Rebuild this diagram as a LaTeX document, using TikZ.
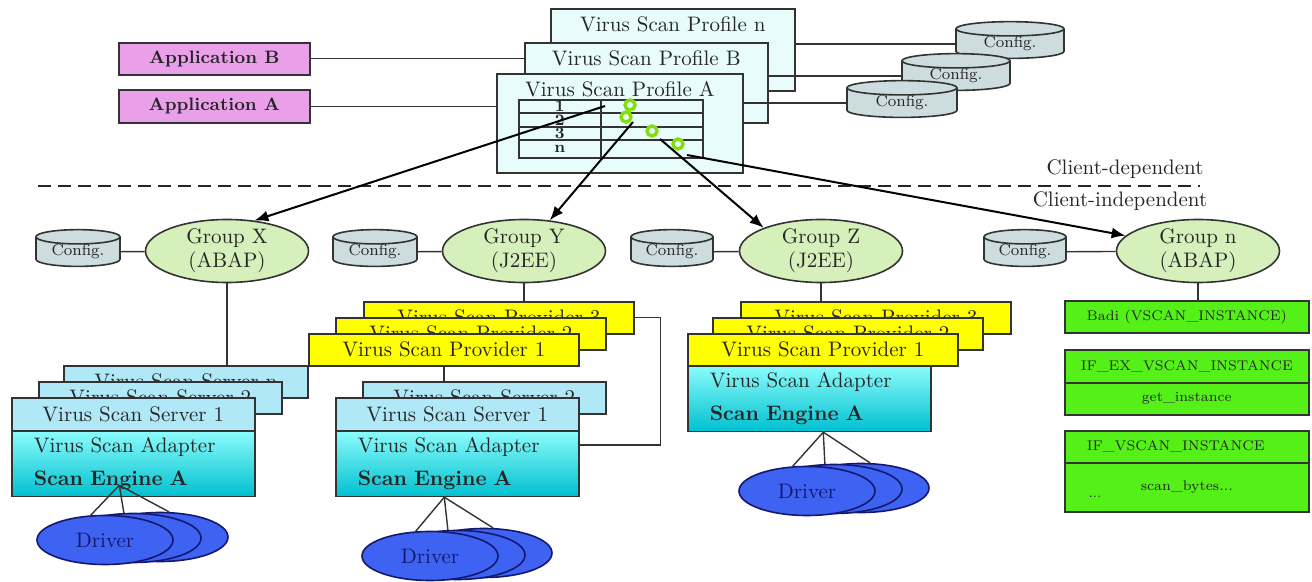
\documentclass[tikz,border=0pt]{standalone}
\usepackage{xcolor}
\definecolor{appmagenta}{RGB}{233, 160, 233}
\definecolor{profcyan}{RGB}{232, 252, 252}
\definecolor{cfggray}{RGB}{205, 220, 222}
\definecolor{grpgreen}{RGB}{214, 240, 188}
\definecolor{provyellow}{RGB}{255, 255, 0}
\definecolor{srvblue}{RGB}{176, 232, 248}
\definecolor{adtop}{RGB}{140, 252, 252}
\definecolor{adbottom}{RGB}{0, 192, 208}
\definecolor{drvblue}{RGB}{62, 98, 242}
\definecolor{drvtext}{RGB}{20, 24, 110}
\definecolor{badigreen}{RGB}{84, 240, 24}
\definecolor{ringgreen}{RGB}{130, 222, 10}
\usepackage{tikz}
\usetikzlibrary{shapes.geometric, arrows.meta, positioning, calc}

\begin{document}
\begin{tikzpicture}[x=0.5pt, y=-0.5pt,
    every node/.style={text=black!85},
    appbox/.style={rectangle, draw=black!80, line width=0.8pt, fill=appmagenta, minimum width=95.5pt, minimum height=16pt, anchor=north west, font=\fontsize{9}{11}\selectfont\bfseries},
    profbox/.style={rectangle, draw=black!80, line width=0.8pt, fill=profcyan, anchor=north west},
    proftxt/.style={inner sep=1pt, font=\fontsize{10.5}{12}\selectfont},
    tcell/.style={rectangle, draw=black!80, line width=0.8pt, anchor=north west, inner sep=0pt, font=\fontsize{8}{9}\selectfont\bfseries},
    ring/.style={circle, draw=ringgreen, line width=1.7pt, minimum size=5pt, inner sep=0pt},
    cfg/.style={cylinder, shape border rotate=90, aspect=0.27, draw=black!80, line width=0.8pt, fill=cfggray, inner sep=0pt, font=\fontsize{8}{9}\selectfont},
    grp/.style={ellipse, draw=black!80, line width=0.8pt, fill=grpgreen, minimum width=81.5pt, minimum height=31.5pt, align=center, inner sep=0pt, font=\fontsize{10.5}{12}\selectfont},
    prov/.style={rectangle, draw=black!80, line width=0.8pt, fill=provyellow, minimum width=135pt, minimum height=16pt, anchor=north west, font=\fontsize{10.5}{12}\selectfont},
    srv/.style={rectangle, draw=black!80, line width=0.8pt, fill=srvblue, minimum width=121.5pt, minimum height=16.5pt, anchor=north west, font=\fontsize{10.5}{12}\selectfont},
    adp/.style={rectangle, draw=black!80, line width=0.8pt, top color=adtop, bottom color=adbottom, minimum height=32.5pt, text width=99.5pt, inner xsep=11pt, align=left, anchor=north west, font=\fontsize{10.5}{12}\selectfont},
    drv/.style={ellipse, draw=drvtext, line width=0.8pt, fill=drvblue, minimum width=68pt, minimum height=24.5pt, text=drvtext, font=\fontsize{10.5}{12}\selectfont},
    gbox/.style={rectangle, draw=black!80, line width=0.8pt, fill=badigreen, minimum width=122pt, minimum height=16pt, anchor=north west, font=\fontsize{7}{8}\selectfont},
    clbl/.style={inner sep=1pt, font=\fontsize{10.5}{12}\selectfont},
    link/.style={draw=black!80, line width=0.7pt},
    divider/.style={black!85, line width=1pt, dash pattern=on 6.5pt off 3.5pt},
    arr/.style={-{Latex[length=7pt, width=5.5pt]}, line width=1pt, black}
  ]
    \useasboundingbox (0,0) rectangle (1312,582);

    \node[profbox, minimum width=122pt, minimum height=41pt] (pn) at (550,8) {};
    \node[proftxt, below=3pt of pn.north] (pnt) {Virus Scan Profile n};
    \node[profbox, minimum width=121.5pt, minimum height=40pt] (pb) at (524,42) {};
    \node[proftxt, below=3pt of pb.north] (pbt) {Virus Scan Profile B};
    \node[profbox, minimum width=123pt, minimum height=49.5pt] (pa) at (496,73) {};
    \node[proftxt, below=3pt of pa.north] (pat) {Virus Scan Profile A};

    \foreach \r/\k/\y/\h in {1/1/99/13, 2/2/112/14, 3/3/126/13, 4/n/139/18} {
      \node[tcell, minimum width=41pt, minimum height=\h*0.5pt] (k\r) at (518,\y) {\k};
      \node[tcell, minimum width=51pt, minimum height=\h*0.5pt] (v\r) at (600,\y) {};
    }
    \foreach \r/\x/\y in {1/630/105, 2/626/117, 3/652/131, 4/678/144}
      \node[ring] (o\r) at (\x,\y) {};

    \node[cfg, minimum width=54pt] (cfgn) at (1010,44) {Config.};
    \node[cfg, minimum width=54pt] (cfgb) at (956,76) {Config.};
    \node[cfg, minimum width=55pt] (cfga) at (902,103) {Config.};

    \node[appbox] (appb) at (118,42) {Application B};
    \node[appbox, minimum height=16.5pt] (appa) at (118,89) {Application A};

    \draw[link] (appb.east) -- (appb.east -| pb.west);
    \draw[link] (appa.east) -- (appa.east -| pa.west);
    \draw[link] (cfgn.west) -- (cfgn.west -| pn.east);
    \draw[link] (cfgb.west) -- (cfgb.west -| pb.east);
    \draw[link] (cfga.west) -- (cfga.west -| pa.east);

    \draw[divider] (38,186) -- (1200,186);
    \node[clbl] (cdep) at (1125,169) {Client-dependent};
    \node[clbl] (cind) at (1120,201) {Client-independent};

    \node[grp] (gx) at (227,251) {Group X\\(ABAP)};
    \node[grp] (gy) at (524,251) {Group Y\\(J2EE)};
    \node[grp] (gz) at (821,251) {Group Z\\(J2EE)};
    \node[grp] (gn) at (1198,251) {Group n\\(ABAP)};
    \node[cfg, minimum width=42pt] (cx) at (78,252) {Config.};
    \node[cfg, minimum width=42pt] (cy) at (375,252) {Config.};
    \node[cfg, minimum width=41pt] (cz) at (672,252) {Config.};
    \node[cfg, minimum width=41pt] (cnn) at (1025,252) {Config.};
    \draw[link] (cx) -- (gx);
    \draw[link] (cy) -- (gy);
    \draw[link] (cz) -- (gz);
    \draw[link] (cnn) -- (gn);

    \node[srv, minimum width=122pt, minimum height=16pt] (xsvn) at (63,365) {Virus Scan Server n};
    \node[srv, minimum height=16pt] (xsv2) at (38,381) {Virus Scan Server 2};
    \node[srv] (xsv1) at (11,397) {Virus Scan Server 1};
    \node[adp] (xad) at (11,430) {Virus Scan Adapter\\[4.5pt]{\bfseries Scan Engine A}};
    \draw[link] (gx.south) -- (gx.south |- xsvn.north);

    \node[prov] (ypr3) at (363,301) {Virus Scan Provider 3};
    \node[prov] (ypr2) at (335,317) {Virus Scan Provider 2};
    \node[prov] (ypr1) at (308,333) {Virus Scan Provider 1};
    \node[srv, minimum height=16pt] (ysv2) at (362,381) {Virus Scan Server 2};
    \node[srv] (ysv1) at (335,397) {Virus Scan Server 1};
    \node[adp] (yad) at (335,430) {Virus Scan Adapter\\[4.5pt]{\bfseries Scan Engine A}};
    \draw[link] (gy.south) -- (gy.south |- ypr3.north);
    \draw[link] (ypr1.south) -- (ypr1.south |- ysv2.north);
    \draw[link] (ypr3.east) -- ++(26,0) |- ([yshift=-7.5pt]yad.north east);

    \node[prov] (zpr3) at (740,301) {Virus Scan Provider 3};
    \node[prov] (zpr2) at (712,317) {Virus Scan Provider 2};
    \node[prov] (zpr1) at (687,333) {Virus Scan Provider 1};
    \node[adp] (zad) at (687,365) {Virus Scan Adapter\\[4.5pt]{\bfseries Scan Engine A}};
    \draw[link] (gz.south) -- (gz.south |- zpr3.north);

    \node[gbox] (badi) at (1064,300) {Badi (VSCAN\_INSTANCE)};
    \node[gbox, minimum height=16.5pt] (ifex) at (1064,349) {IF\_EX\_VSCAN\_INSTANCE};
    \node[gbox] (getin) at (1064,382) {get\_instance};
    \node[gbox, text width=100pt, inner xsep=11pt, align=left] (ifvs) at (1064,430) {IF\_VSCAN\_INSTANCE};
    \node[gbox, minimum height=24.5pt] (scanb) at (1064,462) {scan\_bytes...};
    \node[inner sep=1pt, font=\fontsize{6}{7}\selectfont] (dots) at (1095,497) {...};
    \draw[link] (gn.south) -- (gn.south |- badi.north);

    \node[drv] (xd3) at (160,537) {};
    \node[drv] (xd2) at (133,538) {};
    \node[drv] (xd1) at (105,540) {Driver};
    \node[drv] (yd3) at (484,553) {};
    \node[drv] (yd2) at (457,555) {};
    \node[drv] (yd1) at (430,556) {Driver};
    \node[drv] (zd3) at (861,488) {};
    \node[drv] (zd2) at (834,489) {};
    \node[drv] (zd1) at (807,491) {Driver};

    \coordinate (xe) at ([xshift=-7pt, yshift=6pt]xad.south);
    \coordinate (ye) at ([xshift=-6.5pt]yad.south);
    \coordinate (ze) at ([xshift=7pt]zad.south);
    \draw[link] (xe) -- (xd1.120);
    \draw[link] (xe) -- (xd2.110);
    \draw[link] (xe) -- (xd3.70);
    \draw[link] (ye) -- (yd1.120);
    \draw[link] (ye) -- (yd2.110);
    \draw[link] (ye) -- (yd3.70);
    \draw[link] (ze) -- (zd1.120);
    \draw[link] (ze) -- (zd2.110);
    \draw[link] (ze) -- (zd3.70);

    \coordinate (s1) at (605,106);
    \coordinate (s2) at (633,122);
    \coordinate (s3) at (660,139);
    \coordinate (s4) at (687,155);
    \draw[arr] (s1) -- (gx.48);
    \draw[arr] (s2) -- (gy.50);
    \draw[arr] (s3) -- (gz.158);
    \draw[arr] (s4) -- (gn.168);
  \end{tikzpicture}
\end{document}
